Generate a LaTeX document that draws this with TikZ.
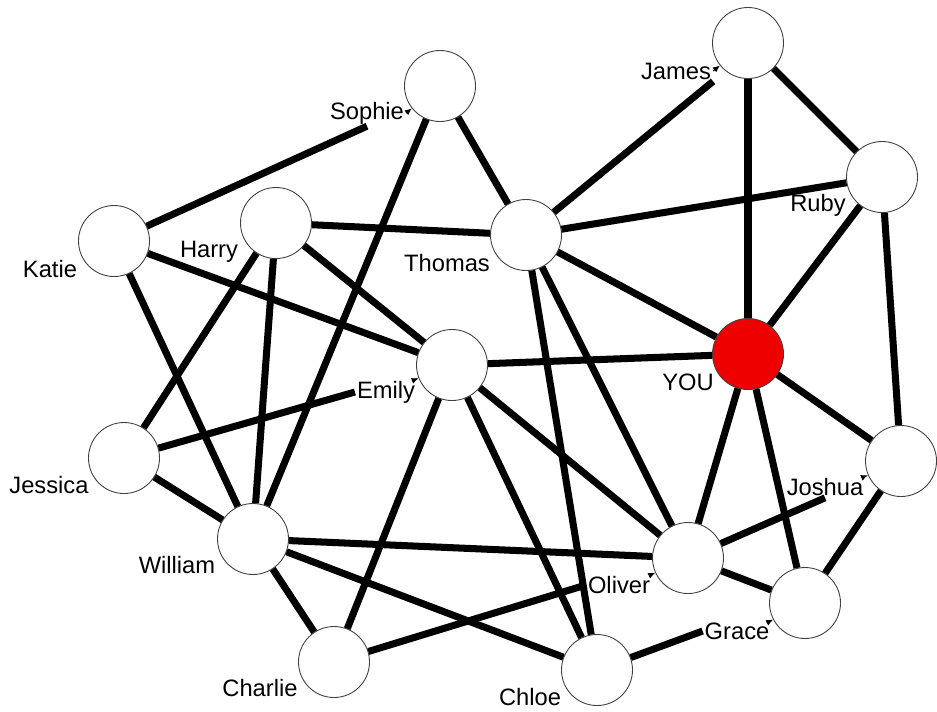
\documentclass[tikz,border=0pt]{standalone}
\usepackage{fontspec}
\setmainfont{Liberation Sans}
\usepackage{xcolor}
\usepackage{tikz}
\usetikzlibrary{arrows.meta}
\definecolor{youred}{HTML}{EE0000}

\begin{document}
\begin{tikzpicture}[
        person/.style={circle, draw=black!75, line width=0.5pt, fill=#1,
                       minimum size=1.42cm, inner sep=0pt},
        person/.default=white,
        nametag/.style={font=\fontsize{13.5}{16}\selectfont, inner sep=1pt},
        tie/.style={line width=4pt},
        pointer/.style={-{Latex[length=4pt,width=3.5pt]}, line width=0.6pt}
    ]
        \useasboundingbox[fill=white] (0,0) rectangle (18.74,-14.22);
        \node[person]        (james)   at (14.96,-0.86)  {};
        \node[person]        (sophie)  at (8.80,-1.72)   {};
        \node[person]        (ruby)    at (17.64,-3.54)  {};
        \node[person]        (katie)   at (2.28,-4.82)   {};
        \node[person]        (harry)   at (5.52,-4.46)   {};
        \node[person]        (thomas)  at (10.52,-4.70)  {};
        \node[person=youred] (you)     at (14.96,-7.08)  {};
        \node[person]        (emily)   at (9.04,-7.30)   {};
        \node[person]        (jessica) at (2.48,-9.16)   {};
        \node[person]        (joshua)  at (18.02,-9.22)  {};
        \node[person]        (william) at (5.06,-10.78)  {};
        \node[person]        (oliver)  at (13.76,-11.16) {};
        \node[person]        (grace)   at (16.10,-12.06) {};
        \node[person]        (charlie) at (6.68,-13.24)  {};
        \node[person]        (chloe)   at (11.94,-13.40) {};

        \node[nametag] (jamesL)   at (13.52,-1.42)  {James};
        \node[nametag] (sophieL)  at (7.34,-2.26)   {Sophie};
        \node[nametag] (rubyL)    at (16.36,-4.10)  {Ruby};
        \node[nametag] (katieL)   at (1.00,-5.38)   {Katie};
        \node[nametag] (harryL)   at (4.18,-5.04)   {Harry};
        \node[nametag] (thomasL)  at (8.94,-5.26)   {Thomas};
        \node[nametag] (youL)     at (13.76,-7.64)  {YOU};
        \node[nametag] (emilyL)   at (7.72,-7.84)   {Emily};
        \node[nametag] (jessicaL) at (0.98,-9.70)   {Jessica};
        \node[nametag] (joshuaL)  at (16.50,-9.74)  {Joshua};
        \node[nametag] (williamL) at (3.54,-11.30)  {William};
        \node[nametag] (oliverL)  at (12.38,-11.70) {Oliver};
        \node[nametag] (graceL)   at (14.74,-12.62) {Grace};
        \node[nametag] (charlieL) at (5.20,-13.76)  {Charlie};
        \node[nametag] (chloeL)   at (10.60,-13.94) {Chloe};

        \draw[tie] (katie) -- (sophieL.south);
        \draw[tie] (sophie) -- (thomas);
        \draw[tie] (sophie) -- (william);
        \draw[tie] (thomas) -- (jamesL.south east);
        \draw[tie] (james) -- (you);
        \draw[tie] (james) -- (ruby);
        \draw[tie] (thomas) -- (ruby);
        \draw[tie] (ruby) -- (you);
        \draw[tie] (ruby) -- (joshua);
        \draw[tie] (harry) -- (thomas);
        \draw[tie] (thomas) -- (you);
        \draw[tie] (thomas) -- (chloe);
        \draw[tie] (thomas) -- (oliver);
        \draw[tie] (harry) -- (emily);
        \draw[tie] (harry) -- (jessica);
        \draw[tie] (harry) -- (william);
        \draw[tie] (katie) -- (emily);
        \draw[tie] (katie) -- (william);
        \draw[tie] (emily) -- (you);
        \draw[tie] (jessica) -- (emilyL.west);
        \draw[tie] (jessica) -- (william);
        \draw[tie] (william) -- (oliver);
        \draw[tie] (william) -- (chloe);
        \draw[tie] (william) -- (charlie);
        \draw[tie] (charlie) -- (emily);
        \draw[tie] (charlie) -- (oliverL.west);
        \draw[tie] (emily) -- (oliver);
        \draw[tie] (emily) -- (chloe);
        \draw[tie] (you) -- (oliver);
        \draw[tie] (you) -- (grace);
        \draw[tie] (you) -- (joshua);
        \draw[tie] (joshua) -- (grace);
        \draw[tie] (oliver) -- (joshuaL.south);
        \draw[tie] (oliver) -- (grace);
        \draw[tie] (chloe) -- (graceL.west);

        \draw[pointer] (sophieL.east) -- (sophie);
        \draw[pointer] (jamesL.east) -- (james);
        \draw[pointer] (emilyL.north east) -- (emily);
        \draw[pointer] (oliverL.north east) -- (oliver);
        \draw[pointer] (graceL.north east) -- (grace);
        \draw[pointer] (joshuaL.north east) -- (joshua);
    \end{tikzpicture}
\end{document}
